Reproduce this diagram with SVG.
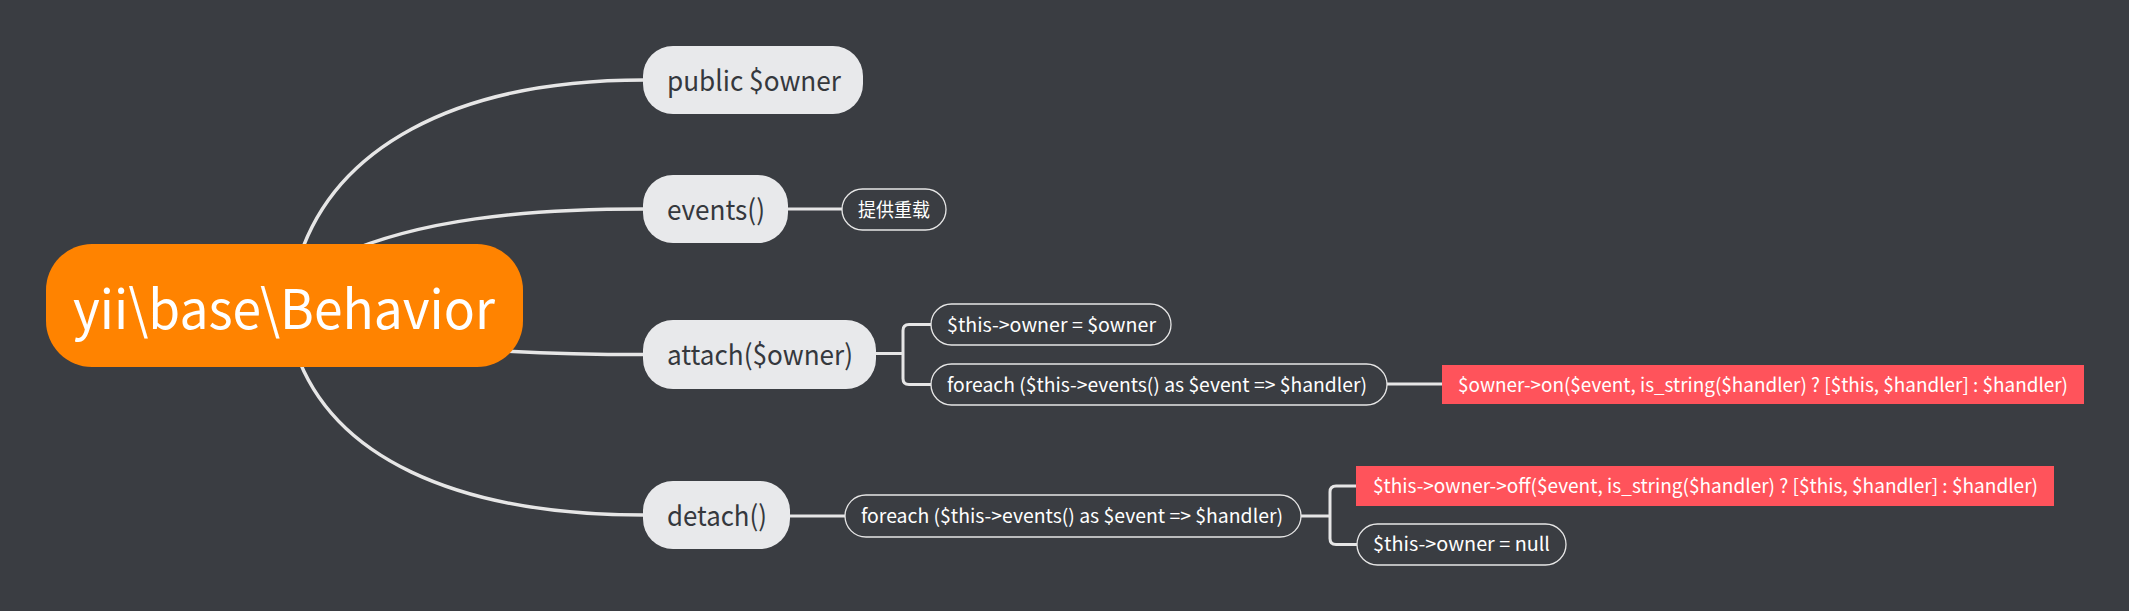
<svg xmlns="http://www.w3.org/2000/svg" width="2142" height="614" viewBox="0 0 2142 614">
<style>
.t{font-family:"Noto Sans CJK SC","Noto Sans",sans-serif}
.main{fill:#e8e9eb}
.btxt{fill:#35383d;font-size:28px}
.sub{fill:none;stroke:#e6e6e6;stroke-width:1.3}
.stxt{fill:#ffffff;font-size:19px}
.red{fill:#ff535b}
.con{fill:none;stroke:#e6e6e6;stroke-width:3.5;stroke-linecap:round}
.con2{fill:none;stroke:#e6e6e6;stroke-width:3}
</style>
<rect x="0" y="0" width="2142" height="614" fill="#ffffff"/>
<rect x="0" y="0" width="2129" height="611" fill="#3a3d42"/>
<g id="connectors">
<path class="con" d="M298,262 C332,150 452,80 644,80"/>
<path class="con" d="M340,255 C420,220 520,209 644,209"/>
<path class="con" d="M505,351 C560,354 590,354.5 644,354.5"/>
<path class="con" d="M296,352 C332,455 452,515 644,515"/>
<path class="con2" d="M787,209 H842"/>
<path class="con2" d="M875,353.5 H903"/>
<path class="con2" d="M931,324.5 H909 Q903,324.5 903,330.5 V378.5 Q903,384.5 909,384.5 H931"/>
<path class="con2" d="M1387,384 H1442"/>
<path class="con2" d="M789,516 H845"/>
<path class="con2" d="M1301,516 H1330"/>
<path class="con2" d="M1356,486 H1336 Q1330,486 1330,492 V538.5 Q1330,544.5 1336,544.5 H1357"/>
</g>
<g id="root">
<rect x="46" y="244" width="477" height="123" rx="46" fill="#ff8300"/>
<text class="t" x="73" y="329" font-size="54" fill="#ffffff" textLength="422" lengthAdjust="spacingAndGlyphs">yii\base\Behavior</text>
</g>
<g id="n-owner">
<rect class="main" x="643" y="46" width="220" height="68" rx="30"/>
<text class="t btxt" x="667" y="91" textLength="174" lengthAdjust="spacingAndGlyphs">public $owner</text>
</g>
<g id="n-events">
<rect class="main" x="643" y="175" width="145" height="68" rx="30"/>
<text class="t btxt" x="667" y="220" textLength="98" lengthAdjust="spacingAndGlyphs">events()</text>
</g>
<g id="n-override">
<rect class="sub" x="842" y="189" width="104" height="41" rx="20.5"/>
<text class="t stxt" x="858" y="217" font-size="18" textLength="72" lengthAdjust="spacingAndGlyphs">提供重载</text>
</g>
<g id="n-attach">
<rect class="main" x="643" y="320" width="233" height="69" rx="30"/>
<text class="t btxt" x="667" y="365" textLength="186" lengthAdjust="spacingAndGlyphs">attach($owner)</text>
</g>
<g id="n-attach-assign">
<rect class="sub" x="931" y="304" width="240" height="41" rx="20.5"/>
<text class="t stxt" x="947" y="332" textLength="209" lengthAdjust="spacingAndGlyphs">$this-&gt;owner = $owner</text>
</g>
<g id="n-attach-foreach">
<rect class="sub" x="931" y="364" width="456" height="41" rx="20.5"/>
<text class="t stxt" x="947" y="392" textLength="420" lengthAdjust="spacingAndGlyphs">foreach ($this-&gt;events() as $event =&gt; $handler)</text>
</g>
<g id="n-attach-on">
<rect class="red" x="1442" y="365" width="642" height="39"/>
<text class="t stxt" x="1458" y="392" textLength="610" lengthAdjust="spacingAndGlyphs">$owner-&gt;on($event, is_string($handler) ? [$this, $handler] : $handler)</text>
</g>
<g id="n-detach">
<rect class="main" x="643" y="481" width="147" height="68" rx="30"/>
<text class="t btxt" x="667" y="526" textLength="100" lengthAdjust="spacingAndGlyphs">detach()</text>
</g>
<g id="n-detach-foreach">
<rect class="sub" x="845" y="495" width="456" height="42" rx="21"/>
<text class="t stxt" x="861" y="523" textLength="422" lengthAdjust="spacingAndGlyphs">foreach ($this-&gt;events() as $event =&gt; $handler)</text>
</g>
<g id="n-detach-off">
<rect class="red" x="1356" y="466" width="698" height="40"/>
<text class="t stxt" x="1373" y="493" textLength="665" lengthAdjust="spacingAndGlyphs">$this-&gt;owner-&gt;off($event, is_string($handler) ? [$this, $handler] : $handler)</text>
</g>
<g id="n-detach-null">
<rect class="sub" x="1357" y="524" width="209" height="41" rx="20.5"/>
<text class="t stxt" x="1373" y="551" textLength="177" lengthAdjust="spacingAndGlyphs">$this-&gt;owner = null</text>
</g>
</svg>
